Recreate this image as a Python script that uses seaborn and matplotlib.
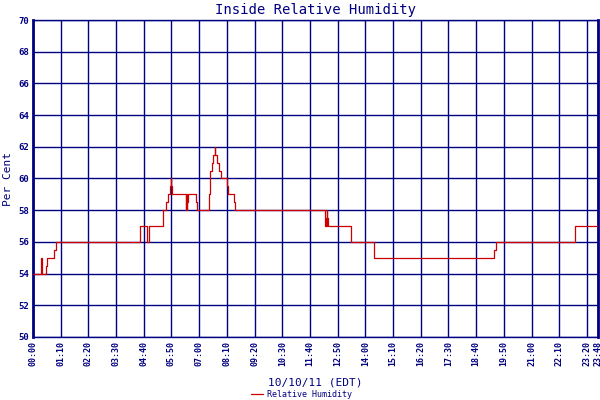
import numpy as np
import pandas as pd
import matplotlib
matplotlib.use("Agg")
import matplotlib.pyplot as plt
import seaborn as sns

# step changes: minute of day and reading (%)
minutes = [0, 20, 21, 22, 23, 32, 36, 54, 57,
           270, 288, 292, 329, 337, 340, 345, 348, 350, 352,
           386, 387, 388, 389, 391, 413, 415,
           446, 448, 452, 456, 459, 461, 464, 471, 476, 490, 494, 507, 510,
           738, 739, 740, 741, 742, 743, 744, 745,
           803, 861, 863, 1165, 1169, 1369, 1371, 1428]
humidity = [54, 54.5, 55, 54.5, 54, 54.5, 55, 55.5, 56,
            57, 56, 57, 58, 58.5, 59, 59.5, 60, 59.5, 59,
            58, 59, 58, 58.5, 59, 58.5, 58,
            59, 60.5, 61, 61.5, 62, 61.5, 61, 60.5, 60, 59.5, 59, 58.5, 58,
            57.5, 57, 57.5, 57, 57.5, 58, 57.5, 57,
            56, 55.5, 55, 55.5, 56, 56.5, 57, 57]

tick_pos = [0, 70, 140, 210, 280, 350, 420, 490, 560, 630, 700, 770, 840,
            910, 980, 1050, 1120, 1190, 1260, 1330, 1400, 1428]
tick_labels = ["00:00", "01:10", "02:20", "03:30", "04:40", "05:50", "07:00",
               "08:10", "09:20", "10:30", "11:40", "12:50", "14:00", "15:10",
               "16:20", "17:30", "18:40", "19:50", "21:00", "22:10", "23:20",
               "23:48"]

df = pd.DataFrame({"minute": minutes, "Relative Humidity": humidity})

sns.set_style("white")
plt.rcParams["font.family"] = ["DejaVu Sans Mono", "DejaVu Sans"]
navy = "#000080"

fig = plt.figure(figsize=(6, 4), dpi=100)
ax = fig.add_axes([33 / 600, 1 - 337 / 400, 565 / 600, 317 / 400])

sns.lineplot(data=df, x="minute", y="Relative Humidity", ax=ax, color="#cc0000",
             linewidth=0.9, drawstyle="steps-post", estimator=None,
             label="Relative Humidity", zorder=3)

ax.set_xlim(0, 1428)
ax.set_ylim(50, 70)
ax.set_xticks(tick_pos)
ax.set_xticklabels(tick_labels, rotation=90, fontsize=6, color=navy, fontweight="bold")
ax.set_yticks(np.arange(50, 71, 2))
ax.set_yticklabels([str(v) for v in range(50, 71, 2)], fontsize=6.5, color=navy,
                   fontweight="bold")
ax.tick_params(axis="both", length=0, pad=3)
ax.grid(True, color=navy, linewidth=1.0)
ax.set_axisbelow(True)

for side in ["left", "right"]:
    ax.spines[side].set_color(navy)
    ax.spines[side].set_linewidth(2)
for side in ["top", "bottom"]:
    ax.spines[side].set_color(navy)
    ax.spines[side].set_linewidth(1.0)

ax.set_title("Inside Relative Humidity", fontsize=10, color=navy, pad=4)
ax.set_xlabel("10/10/11 (EDT)", fontsize=8, color=navy, labelpad=8)
ax.set_ylabel("Per Cent", fontsize=8, color=navy, labelpad=4)

ax.legend(loc="center", bbox_to_anchor=(0.475, -0.18), frameon=False,
          fontsize=6, labelcolor=navy, handlelength=1.5, handletextpad=0.5,
          borderpad=0)

fig.savefig("out.png", dpi=100)
